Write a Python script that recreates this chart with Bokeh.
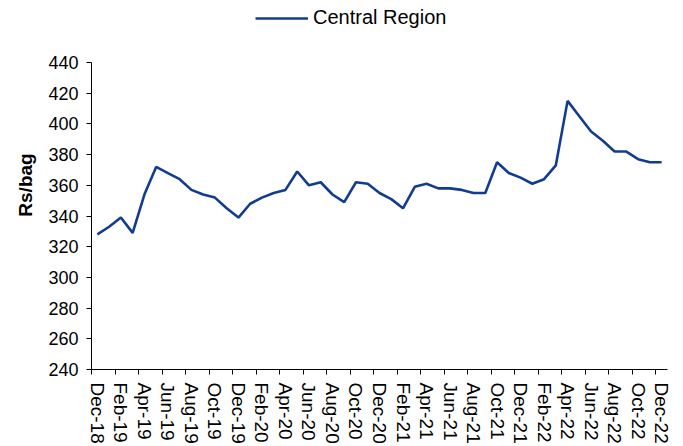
from bokeh.plotting import figure
from bokeh.models import FixedTicker, Legend, LegendItem, Range1d
from bokeh.embed import file_html
from bokeh.resources import INLINE

months = ["Dec-18", "Jan-19", "Feb-19", "Mar-19", "Apr-19", "May-19", "Jun-19", "Jul-19",
          "Aug-19", "Sep-19", "Oct-19", "Nov-19", "Dec-19", "Jan-20", "Feb-20", "Mar-20",
          "Apr-20", "May-20", "Jun-20", "Jul-20", "Aug-20", "Sep-20", "Oct-20", "Nov-20",
          "Dec-20", "Jan-21", "Feb-21", "Mar-21", "Apr-21", "May-21", "Jun-21", "Jul-21",
          "Aug-21", "Sep-21", "Oct-21", "Nov-21", "Dec-21", "Jan-22", "Feb-22", "Mar-22",
          "Apr-22", "May-22", "Jun-22", "Jul-22", "Aug-22", "Sep-22", "Oct-22", "Nov-22",
          "Dec-22"]
central = [328, 333, 339, 329, 354, 372, 368, 364, 357, 354, 352, 345, 339, 348, 352, 355,
           357, 369, 360, 362, 354, 349, 362, 361, 355, 351, 345, 359, 361, 358, 358, 357,
           355, 355, 375, 368, 365, 361, 364, 373, 415, 405, 395, 389, 382, 382, 377, 375,
           375]
y_ticks = [240, 260, 280, 300, 320, 340, 360, 380, 400, 420, 440]

FONT = "Liberation Sans"
x = list(range(len(months)))

# frame extends to the top of the figure so the legend can sit above the axis area;
# the y axis itself is bounded to 240-440
p = figure(frame_width=576, frame_height=369, output_backend="svg", toolbar_location=None,
           min_border_left=91, min_border_top=0, min_border_right=14, min_border_bottom=74,
           x_range=Range1d(-0.5, len(months) - 0.5), y_range=Range1d(240, 480.4))
p.outline_line_color = None
p.grid.visible = False
p.background_fill_color = "white"
p.border_fill_color = "white"

r = p.line(x, central, line_color="#123c90", line_width=2.6)

# x axis: labels on every other month, tick marks on category boundaries
even = [i for i in x if i % 2 == 0]
bounds = [i - 0.5 for i in even]
p.xaxis.ticker = FixedTicker(ticks=even, minor_ticks=bounds)
p.xaxis.major_label_overrides = {i: months[i] for i in even}
p.xaxis.major_label_orientation = "vertical"
p.xaxis.major_tick_out = 0
p.xaxis.major_tick_in = 0
p.xaxis.minor_tick_out = 5
p.xaxis.minor_tick_in = 0
p.xaxis.minor_tick_line_color = "black"
p.xaxis.major_label_standoff = 8

p.yaxis.ticker = FixedTicker(ticks=y_ticks)
p.yaxis.bounds = (y_ticks[0], y_ticks[-1])
p.yaxis.minor_tick_line_color = None
p.yaxis.major_tick_out = 5
p.yaxis.major_tick_in = 0
p.yaxis.major_label_standoff = 8
p.yaxis.axis_label = "Rs/bag"
p.yaxis.axis_label_text_font_style = "bold"
p.yaxis.axis_label_standoff = 9

for ax in (p.xaxis, p.yaxis):
    ax.axis_line_color = "black"
    ax.major_tick_line_color = "black"
    ax.major_label_text_font = FONT
    ax.major_label_text_color = "black"
    ax.axis_label_text_font = FONT
    ax.axis_label_text_font_size = "19px"
    ax.axis_label_text_color = "black"
p.xaxis.major_label_text_font_size = "19px"
p.yaxis.major_label_text_font_size = "18px"

legend = Legend(items=[LegendItem(label="Central Region", renderers=[r])],
                location=(164, 340), orientation="horizontal",
                glyph_width=53, glyph_height=20, label_standoff=5, padding=0, margin=0,
                border_line_color=None, background_fill_alpha=0,
                label_text_font=FONT, label_text_font_size="20px", label_text_color="black")
p.add_layout(legend)

open("out.html", "w").write(file_html(p, INLINE))
